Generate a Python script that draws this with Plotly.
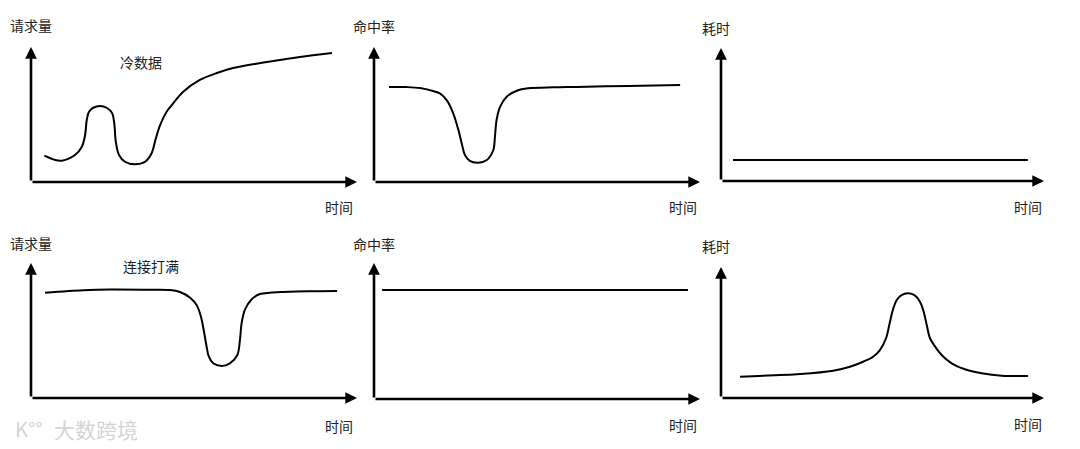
import plotly.graph_objects as go

W, H = 1080, 449
OFF = 8  # default page body margin

# ---------------- data (time 0-100, value 0-100) ----------------
y_labels = ["请求量", "命中率", "耗时", "请求量", "命中率", "耗时"]
x_label = "时间"
notes = ["冷数据", "连接打满"]

p1_x = [4.1, 7.4, 9.5, 13.5, 15.6, 16.6, 17.1, 17.8, 19.1, 21.2, 23.2, 24.9, 25.6, 26.0, 27.0,
        28.8, 31.9, 35.0, 37.0, 38.3, 39.6, 41.6, 43.2, 46.6, 51.8, 57.0, 62.0, 72.4, 82.5, 92.3]
p1_y = [19.5, 16.3, 15.8, 20.0, 26.1, 34.8, 45.9, 52.1, 55.0, 56.3, 55.0, 50.9, 42.2, 29.9, 20.0,
        15.0, 13.1, 15.0, 21.3, 32.4, 42.2, 52.1, 57.0, 66.7, 75.6, 80.7, 84.4, 88.9, 92.6, 95.6]

p2_x = [4.6, 10.0, 14.1, 18.1, 20.2, 22.3, 24.3, 25.9, 26.9, 27.9, 29.4, 32.0, 34.6, 36.6, 37.1,
        37.6, 38.7, 40.7, 43.8, 47.3, 55.0, 62.3, 78.0, 93.9]
p2_y = [70.4, 70.3, 69.6, 67.4, 65.7, 60.7, 50.9, 38.5, 28.7, 20.0, 15.6, 14.3, 16.3, 23.7, 33.6,
        45.9, 55.8, 63.2, 67.6, 69.4, 70.1, 70.4, 71.2, 71.9]

p3_x = [3.7, 95.0]
p3_y = [15.8, 15.8]

p4_x = [4.3, 16.0, 24.2, 36.5, 42.6, 45.7, 48.8, 50.8, 52.1, 53.0, 53.8, 54.5, 55.9, 58.5, 61.0,
        63.3, 64.1, 64.6, 65.6, 67.7, 70.2, 73.3, 77.3, 85.0, 93.9]
p4_y = [78.0, 79.8, 80.4, 80.2, 80.0, 78.5, 74.3, 68.9, 60.5, 50.0, 39.0, 31.0, 25.7, 23.7, 25.7,
        31.9, 43.0, 55.3, 65.2, 73.1, 77.0, 78.0, 78.5, 79.1, 79.3]

p5_x = [2.5, 96.3]
p5_y = [80.1, 80.1]

p6_x = [5.9, 24.5, 34.7, 39.9, 44.0, 47.1, 49.2, 51.1, 52.1, 53.2, 54.4, 55.9, 58.0, 60.1, 61.6,
        62.6, 63.7, 64.7, 66.3, 68.3, 71.4, 75.5, 80.7, 86.9, 95.1]
p6_y = [16.3, 18.3, 20.8, 23.9, 27.7, 31.5, 36.6, 45.6, 55.7, 67.2, 74.8, 78.6, 79.9, 78.1, 73.5,
        67.2, 55.7, 45.6, 39.2, 32.8, 26.5, 21.9, 18.9, 17.0, 16.8]

series = [(p1_x, p1_y), (p2_x, p2_y), (p3_x, p3_y), (p4_x, p4_y), (p5_x, p5_y), (p6_x, p6_y)]

# ---------------- layout (pixel boxes of each panel: left, right, bottom, top) ----------------
boxes = [
    (31, 357, 182, 47),
    (374, 700, 182, 47),
    (721, 1044, 181, 48),
    (31, 357, 398, 263),
    (374, 700, 399, 263),
    (721, 1044, 398, 267),
]
ylab_pos = [(31, 25.5), (374, 26), (716, 28.5), (31, 242.5), (374, 243.5), (716, 246)]
xlab_pos = [(339, 207.5), (683, 207), (1027.5, 207), (339, 425.5), (683, 425), (1027.5, 424)]
note_pos = [(141, 62), (151, 266)]

FONT = "Noto Sans CJK SC, Noto Sans, sans-serif"
FW, FH = W - OFF, H - OFF

def px(x):
    return (x - OFF) / FW

def py(y):
    return 1 - (y - OFF) / FH

fig = go.Figure()
layout = dict(
    width=FW, height=FH,
    margin=dict(l=0, r=0, t=0, b=0),
    paper_bgcolor="white", plot_bgcolor="white",
    showlegend=False,
    font=dict(family=FONT, size=14, color="#222222"),
)
annotations = []

for i, ((sx, sy), (l, r, b, t)) in enumerate(zip(series, boxes)):
    n = i + 1
    xa = "x" if n == 1 else f"x{n}"
    ya = "y" if n == 1 else f"y{n}"
    fig.add_trace(go.Scatter(
        x=sx, y=sy, xaxis=xa, yaxis=ya, mode="lines",
        line=dict(color="black", width=2, shape="spline", smoothing=0.9),
        hoverinfo="skip", cliponaxis=False,
    ))
    axcommon = dict(range=[0, 100], visible=False, fixedrange=True)
    layout["xaxis" if n == 1 else f"xaxis{n}"] = dict(
        domain=[px(l), px(r)], anchor=ya, **axcommon)
    layout["yaxis" if n == 1 else f"yaxis{n}"] = dict(
        domain=[py(b), py(t)], anchor=xa, **axcommon)
    # x-axis arrow
    annotations.append(dict(
        x=100, y=0, ax=0, ay=0, xref=xa, yref=ya, axref=xa, ayref=ya,
        text="", showarrow=True, arrowhead=2, arrowsize=0.9, arrowwidth=2.6,
        arrowcolor="black", standoff=0, startstandoff=0))
    # y-axis arrow
    annotations.append(dict(
        x=0, y=100, ax=0, ay=0, xref=xa, yref=ya, axref=xa, ayref=ya,
        text="", showarrow=True, arrowhead=2, arrowsize=0.9, arrowwidth=2.6,
        arrowcolor="black", standoff=0, startstandoff=0))
    # labels
    lx, ly = ylab_pos[i]
    annotations.append(dict(x=px(lx), y=py(ly), xref="paper", yref="paper",
                            text=y_labels[i], showarrow=False,
                            xanchor="center", yanchor="middle",
                            font=dict(size=14, color="#222222", family=FONT)))
    tx, ty = xlab_pos[i]
    annotations.append(dict(x=px(tx), y=py(ty), xref="paper", yref="paper",
                            text=x_label, showarrow=False,
                            xanchor="center", yanchor="middle",
                            font=dict(size=14, color="#222222", family=FONT)))

for txt, (nx, ny) in zip(notes, note_pos):
    annotations.append(dict(x=px(nx), y=py(ny), xref="paper", yref="paper",
                            text=txt, showarrow=False,
                            xanchor="center", yanchor="middle",
                            font=dict(size=14, color="#222222", family=FONT)))

# watermark
annotations.append(dict(x=px(96), y=py(429), xref="paper", yref="paper",
                        text="大数跨境", showarrow=False,
                        xanchor="center", yanchor="middle",
                        font=dict(size=21, color="#d4d4d4", family=FONT)))
annotations.append(dict(x=px(29), y=py(428), xref="paper", yref="paper",
                        text="K°°", showarrow=False,
                        xanchor="center", yanchor="middle",
                        font=dict(size=20, color="#d4d4d4", family=FONT)))

layout["annotations"] = annotations
fig.update_layout(**layout)
fig.write_html("out.html")
